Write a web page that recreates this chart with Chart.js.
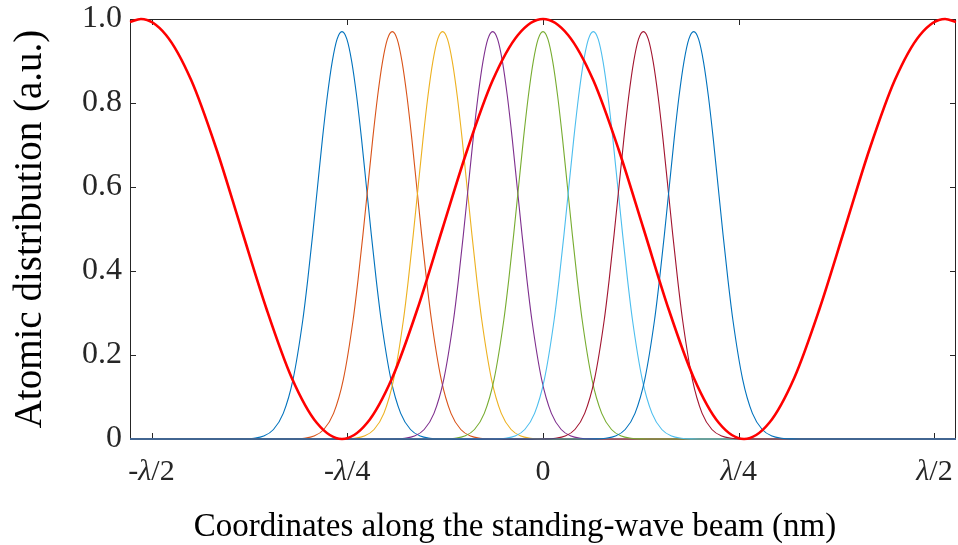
<!DOCTYPE html>
<html>
<head>
<meta charset="utf-8">
<script src="https://cdn.jsdelivr.net/npm/chart.js@4"></script>
<style>
  html, body { margin: 0; padding: 0; background: #fff; }
  #wrap { width: 958px; height: 545px; }
</style>
</head>
<body>
<div id="wrap"><canvas id="chart" width="958" height="545"></canvas></div>
<script>
// x in units of lambda/4
var xMin = -2.11, xMax = 2.11;
var tickValues = [-2, -1, 0, 1, 2];
// tick labels split as [prefix, italic part, suffix]
var tickLabels = [['-', '\u03bb', '/2'], ['-', '\u03bb', '/4'], ['0', '', ''], ['', '\u03bb', '/4'], ['', '\u03bb', '/2']];
var xTitle = 'Coordinates along the standing-wave beam (nm)';
var yTitle = 'Atomic distribution (a.u.)';

// standing wave intensity (red)
var redX = [-2.11, -2.054, -1.926, -1.797, -1.669, -1.541, -1.412, -1.284, -1.155, -1.027,
            -0.899, -0.770, -0.642, -0.514, -0.385, -0.257, -0.128, 0,
            0.128, 0.257, 0.385, 0.514, 0.642, 0.770, 0.899, 1.027,
            1.155, 1.284, 1.412, 1.541, 1.669, 1.797, 1.926, 2.054, 2.11];
var redY = [0.993, 1.0, 0.962, 0.854, 0.691, 0.5, 0.309, 0.146, 0.038, 0,
            0.038, 0.146, 0.309, 0.5, 0.691, 0.854, 0.962, 1.0,
            0.962, 0.854, 0.691, 0.5, 0.309, 0.146, 0.038, 0,
            0.038, 0.146, 0.309, 0.5, 0.691, 0.854, 0.962, 1.0, 0.993];

// atomic distribution peaks
var peakCenters = [-1.027, -0.770, -0.513, -0.257, 0, 0.257, 0.513, 0.770];
var peakColors = ['#0072BD', '#D95319', '#EDB120', '#7E2F8E', '#77AC30', '#4DBEEE', '#A2142F', '#0072BD'];
// one peak profile: offset from centre / value
var profileDx = [-0.6, -0.5, -0.45, -0.4, -0.35, -0.3, -0.25, -0.2, -0.175, -0.15, -0.125, -0.1, -0.075, -0.05, -0.025, 0,
                 0.025, 0.05, 0.075, 0.1, 0.125, 0.15, 0.175, 0.2, 0.25, 0.3, 0.35, 0.4, 0.45, 0.5, 0.6];
var profileY = [0, 0.0004, 0.0019, 0.0071, 0.0226, 0.061, 0.142, 0.284, 0.379, 0.486, 0.600, 0.714, 0.816, 0.898, 0.952, 0.970,
                0.952, 0.898, 0.816, 0.714, 0.600, 0.486, 0.379, 0.284, 0.142, 0.061, 0.0226, 0.0071, 0.0019, 0.0004, 0];

var fontFam = '"Liberation Serif", "Times New Roman", serif';
var axisColor = '#262626';

function peakData(c) {
	var pts = [{ x: xMin, y: 0 }];
	for (var i = 0; i < profileDx.length; i++) {
		pts.push({ x: c + profileDx[i], y: profileY[i] });
	}
	pts.push({ x: xMax, y: 0 });
	return pts;
}

var datasets = [{
	data: redX.map(function (x, i) { return { x: x, y: redY[i] }; }),
	borderColor: '#FF0000',
	borderWidth: 2.6,
	cubicInterpolationMode: 'monotone',
	pointRadius: 0,
	clip: 4
}];
for (var k = peakCenters.length - 1; k >= 0; k--) {
	datasets.push({
		data: peakData(peakCenters[k]),
		borderColor: peakColors[k],
		borderWidth: 1.1,
		cubicInterpolationMode: 'monotone',
		pointRadius: 0,
		clip: 2
	});
}

/*-------------------------------------------------------------------------*/
// Box with inward ticks (MATLAB style) + x tick labels with italic lambda
/*-------------------------------------------------------------------------*/
var boxPlugin = {
	id: 'box',
	beforeDatasetsDraw: function (chart) {
		var ctx = chart.ctx, a = chart.chartArea;
		var xs = chart.scales.x, ys = chart.scales.y;
		var len = 6;
		ctx.save();
		ctx.strokeStyle = axisColor;
		ctx.lineWidth = 1;
		ctx.strokeRect(Math.round(a.left) + 0.5, Math.round(a.top) + 0.5, Math.round(a.right - a.left) - 1, Math.round(a.bottom - a.top));
		ctx.beginPath();
		tickValues.forEach(function (v) {
			var px = Math.round(xs.getPixelForValue(v)) + 0.5;
			ctx.moveTo(px, a.bottom); ctx.lineTo(px, a.bottom - len);
			ctx.moveTo(px, a.top); ctx.lineTo(px, a.top + len);
		});
		ys.ticks.forEach(function (t) {
			var py = Math.round(ys.getPixelForValue(t.value)) + 0.5;
			ctx.moveTo(a.left, py); ctx.lineTo(a.left + len, py);
			ctx.moveTo(a.right, py); ctx.lineTo(a.right - len, py);
		});
		ctx.stroke();

		// x tick labels
		var size = 30;
		var fN = size + 'px ' + fontFam, fI = 'italic ' + size + 'px ' + fontFam;
		ctx.fillStyle = axisColor;
		ctx.textBaseline = 'alphabetic';
		ctx.textAlign = 'left';
		tickValues.forEach(function (v, i) {
			var parts = tickLabels[i];
			ctx.font = fN; var w0 = ctx.measureText(parts[0]).width, w2 = ctx.measureText(parts[2]).width;
			ctx.font = fI; var w1 = ctx.measureText(parts[1]).width;
			var x = xs.getPixelForValue(v) - (w0 + w1 + w2) / 2;
			var y = a.bottom + 41;
			ctx.font = fN; ctx.fillText(parts[0], x, y);
			ctx.font = fI; ctx.fillText(parts[1], x + w0, y);
			ctx.font = fN; ctx.fillText(parts[2], x + w0 + w1, y);
		});

		// x axis title
		ctx.fillStyle = '#000';
		ctx.font = '33px ' + fontFam;
		ctx.textAlign = 'center';
		ctx.fillText(xTitle, 515, 536);
		ctx.restore();
	}
};

new Chart(document.getElementById('chart'), {
	type: 'line',
	data: { datasets: datasets },
	plugins: [boxPlugin],
	options: {
		responsive: false,
		devicePixelRatio: 1,
		animation: false,
		layout: { padding: { top: 19, right: 2, left: 0, bottom: 0 } },
		plugins: { legend: { display: false }, tooltip: { enabled: false } },
		scales: {
			x: {
				type: 'linear',
				min: xMin,
				max: xMax,
				afterBuildTicks: function (scale) {
					scale.ticks = tickValues.map(function (v) { return { value: v }; });
				},
				afterFit: function (scale) {
					scale.height = 106;
					scale.paddingLeft = 0;
					scale.paddingRight = 0;
				},
				grid: { display: false, drawTicks: false },
				border: { display: false },
				ticks: { display: false },
				title: { display: false }
			},
			y: {
				min: 0,
				max: 1,
				afterFit: function (scale) {
					scale.width = 130;
					scale.paddingTop = 0;
					scale.paddingBottom = 0;
				},
				grid: { display: false, drawTicks: false },
				border: { display: false },
				ticks: {
					stepSize: 0.2,
					padding: 8,
					color: '#262626',
					font: { family: fontFam, size: 32 },
					callback: function (v) {
						return v === 0 ? '0' : v.toFixed(1);
					}
				},
				title: {
					display: true,
					text: yTitle,
					color: '#000',
					font: { family: fontFam, size: 39 },
					padding: { top: 7, bottom: 0 }
				}
			}
		}
	}
});
</script>
</body>
</html>
